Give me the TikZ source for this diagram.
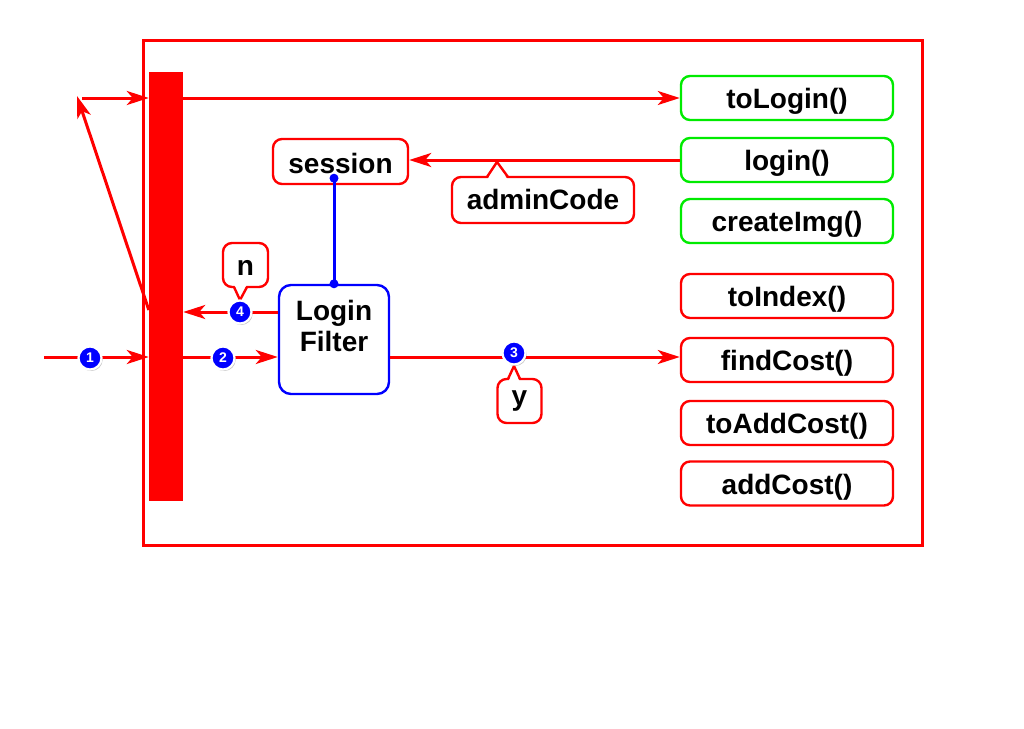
\documentclass[tikz,border=0pt]{standalone}
\usepackage{fontspec}
\setmainfont{Liberation Sans}
\usetikzlibrary{arrows.meta,shadows}
\definecolor{okgreen}{RGB}{0,235,0}
\definecolor{hotred}{RGB}{255,0,0}
\definecolor{wireblue}{RGB}{0,0,255}
\begin{document}
\begin{tikzpicture}[x=1pt,y=-1pt,
  lbl/.style={font=\fontsize{28}{33}\selectfont\bfseries},
  method/.style={lbl,draw,rounded corners=9pt,line width=2.4pt,fill=white,
    minimum width=212pt,minimum height=44pt,inner sep=0pt,
    text height=21pt,text depth=0pt},
  openm/.style={method,draw=okgreen},
  guardm/.style={method,draw=hotred},
  note/.style={lbl,draw=hotred,line width=2.4pt,rounded corners=9pt,fill=white,inner sep=0pt},
  flow/.style={draw=hotred,line width=3pt,-{Stealth[length=22pt,width=14pt,inset=6pt]}},
  wire/.style={draw=wireblue,line width=3pt},
  tail/.style={draw=hotred,line width=2.4pt,line join=miter},
  stepno/.style={circle,fill=wireblue,draw=white,line width=2.2pt,minimum size=23pt,
    inner sep=0pt,text=white,font=\fontsize{14}{14}\selectfont\bfseries,
    drop shadow={shadow xshift=1.2pt,shadow yshift=-1.5pt,opacity=0.45}}
]
\useasboundingbox (0,0) rectangle (1024,728);

% container
\draw[hotred,line width=3pt] (143,40) rectangle (922,545);

% filter chain bar
\node[fill=hotred,minimum width=34pt,minimum height=429pt,inner sep=0pt] (bar) at (166,286.5) {};

% controller methods
\node[openm]  (toLogin)   at (787,98)  {toLogin()};
\node[openm]  (login)     at (787,160) {login()};
\node[openm]  (createImg) at (787,221) {createImg()};
\node[guardm] (toIndex)   at (787,296) {toIndex()};
\node[guardm] (findCost)  at (787,360) {findCost()};
\node[guardm] (toAddCost) at (787,423) {toAddCost()};
\node[guardm] (addCost)   at (787,483.5) {addCost()};

% session and filter
\node[note,minimum width=135pt,minimum height=45pt,text height=24pt,text depth=0pt]
  (session) at (340.5,161.5) {session};
\node[lbl,draw=wireblue,line width=2.4pt,rounded corners=12pt,fill=white,
  minimum width=110pt,minimum height=109pt,inner sep=0pt,
  text height=23pt,text depth=0pt] (lf) at (334,339.5)
  {\begin{tabular}[b]{@{}c@{}}Login\\[-2pt]Filter\end{tabular}};

% row coordinates
\coordinate (rowin)   at (44,357);
\coordinate (rowback) at (0,312);
\coordinate (bounce)  at (77,96);
\coordinate (reentry) at (82,98);

% request flow
\draw[flow] (rowin) -- (rowin -| bar.west);
\draw[flow] (rowin -| bar.east) -- (rowin -| lf.west);
\draw[flow] (rowin -| lf.east) -- (rowin -| findCost.west);
\draw[flow] (rowback -| lf.west) -- (rowback -| bar.east);
\draw[flow] ([yshift=2pt]rowback -| bar.west) -- (bounce);
\draw[flow] (reentry) -- (reentry -| bar.west);
\draw[flow] (reentry -| bar.east) -- (toLogin.west);
\draw[flow] (login.west) -- (login.west -| session.east);

% session lookup
\draw[wire] (lf.north) -- ([yshift=7pt]lf.north |- session.south);
\fill[wireblue] (lf.north) circle (4.5pt);
\fill[wireblue] ([yshift=7pt]lf.north |- session.south) circle (4.5pt);

% callouts
\node[note,minimum width=182pt,minimum height=46pt,text height=19pt,text depth=0pt]
  (admin) at (543,200) {adminCode};
\fill[white] (487,180) -- (497,163) -- (508,180) -- cycle;
\draw[tail] (487,177) -- (497,162) -- (508,177);

\node[note,minimum width=45pt,minimum height=44pt,text height=20pt,text depth=0pt]
  (nnote) at (245.5,265) {n};
\fill[white] (234,284) -- (240,300) -- (247,284) -- cycle;
\draw[tail] (234,287) -- (240,300) -- (247,287);

\node[note,minimum width=44pt,minimum height=44pt] (ynote) at (519.5,401) {y};
\fill[white] (508,383) -- (514,366) -- (520,383) -- cycle;
\draw[tail] (508,379) -- (514,366) -- (520,379);

% step markers
\node[stepno] (s1) at (90,358)  {1};
\node[stepno] (s2) at (223,358) {2};
\node[stepno] (s3) at (514,353) {3};
\node[stepno] (s4) at (240,312) {4};
\end{tikzpicture}
\end{document}
